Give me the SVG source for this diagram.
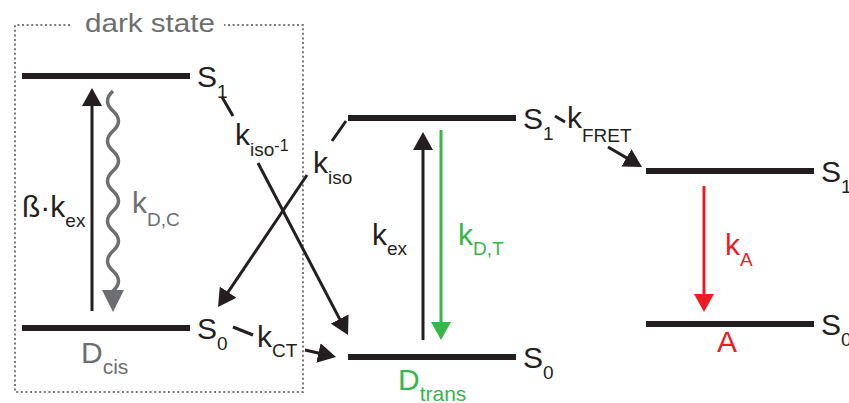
<svg xmlns="http://www.w3.org/2000/svg" width="849" height="403" viewBox="0 0 849 403">
<style>
.lvl{stroke:#231f20;stroke-width:6;fill:none}
.t{font-family:"Liberation Sans",Arial,sans-serif;font-size:30px;fill:#231f20}
.g{fill:#6d6e71}
.gr{fill:#39b54a}
.rd{fill:#ed1c24}
.sub{font-size:19px}
.ar{stroke:#231f20;stroke-width:3;fill:none;marker-end:url(#hb)}
.dash{stroke:#231f20;stroke-width:3;fill:none}
</style>
<defs>
<marker id="hb" viewBox="0 0 18 20" markerWidth="18" markerHeight="20" refX="10" refY="10" orient="auto" markerUnits="userSpaceOnUse"><path d="M0,0 L18,10 L0,20 z" fill="#231f20"/></marker>
<marker id="hg" viewBox="0 0 22 22" markerWidth="22" markerHeight="22" refX="12" refY="11" orient="auto" markerUnits="userSpaceOnUse"><path d="M0,0 L22,11 L0,22 z" fill="#6d6e71"/></marker>
<marker id="hgr" viewBox="0 0 18 20" markerWidth="18" markerHeight="20" refX="10" refY="10" orient="auto" markerUnits="userSpaceOnUse"><path d="M0,0 L18,10 L0,20 z" fill="#39b54a"/></marker>
<marker id="hr" viewBox="0 0 18 20" markerWidth="18" markerHeight="20" refX="10" refY="10" orient="auto" markerUnits="userSpaceOnUse"><path d="M0,0 L18,10 L0,20 z" fill="#ed1c24"/></marker>
</defs>
<rect width="849" height="403" fill="#ffffff"/>

<g id="dark-state">
<path d="M70,25 H15 V392 H303 V25 H224" fill="none" stroke="#7a7a7a" stroke-width="2" stroke-dasharray="2 2.6"/>
<text class="t g" x="85" y="32" textLength="130" lengthAdjust="spacingAndGlyphs" style="font-size:25px">dark state</text>
</g>

<g id="cis-S1">
<line class="lvl" x1="22" y1="76" x2="190" y2="76"/>
<text class="t" x="197" y="87">S<tspan class="sub" dy="11">1</tspan></text>
</g>
<g id="cis-S0">
<line class="lvl" x1="22" y1="328" x2="190" y2="328"/>
<text class="t" x="197" y="339">S<tspan class="sub" dy="11">0</tspan></text>
<text class="t g" x="81" y="363">D<tspan class="sub" dy="11" style="font-size:21px">cis</tspan></text>
</g>
<g id="trans-S1">
<line class="lvl" x1="348" y1="118" x2="516" y2="118"/>
<text class="t" x="523" y="129">S<tspan class="sub" dy="11">1</tspan></text>
</g>
<g id="trans-S0">
<line class="lvl" x1="348" y1="357" x2="516" y2="357"/>
<text class="t" x="523" y="368">S<tspan class="sub" dy="11">0</tspan></text>
<text class="t gr" x="398" y="390">D<tspan class="sub" dy="11" style="font-size:21px">trans</tspan></text>
</g>
<g id="acc-S1">
<line class="lvl" x1="646" y1="171" x2="814" y2="171"/>
<text class="t" x="821" y="182">S<tspan class="sub" dy="11">1</tspan></text>
</g>
<g id="acc-S0">
<line class="lvl" x1="646" y1="324" x2="814" y2="324"/>
<text class="t" x="821" y="335">S<tspan class="sub" dy="11">0</tspan></text>
<text class="t rd" x="717" y="352">A</text>
</g>

<g id="connectors">
<line class="ar" x1="92" y1="311" x2="92" y2="96"/>
<text class="t" x="22" y="217">ß·k<tspan class="sub" dy="10">ex</tspan></text>
<path d="M113,91 q-11,10 0,20 t0,20 t0,20 t0,20 t0,20 t0,20 t0,20 t0,20 t0,20 t0,20 L113,302" stroke="#6d6e71" stroke-width="3.5" fill="none" marker-end="url(#hg)"/>
<text class="t g" x="132" y="213">k<tspan class="sub" dy="13">D,C</tspan></text>
<line class="dash" x1="222" y1="97" x2="233" y2="116"/>
<line class="ar" x1="258" y1="163" x2="344.3" y2="327.9"/>
<text class="t" x="235" y="145">k<tspan class="sub" dy="11">iso</tspan><tspan style="font-size:16px" dy="-5">-1</tspan></text>
<line class="dash" x1="332" y1="141" x2="346" y2="121"/>
<line class="ar" x1="307" y1="175" x2="222.5" y2="300.4"/>
<text class="t" x="313" y="173">k<tspan class="sub" dy="11">iso</tspan></text>
<line class="dash" x1="233" y1="327" x2="253" y2="335"/>
<line class="ar" x1="305" y1="350" x2="328.2" y2="355.2"/>
<text class="t" x="257" y="347">k<tspan class="sub" dy="10">CT</tspan></text>
<line class="ar" x1="423" y1="340" x2="423" y2="140"/>
<text class="t" x="372" y="245">k<tspan class="sub" dy="10">ex</tspan></text>
<line x1="441" y1="130" x2="441" y2="332" stroke="#39b54a" stroke-width="3" marker-end="url(#hgr)"/>
<text class="t gr" x="458" y="245">k<tspan class="sub" dy="10">D,T</tspan></text>
<line class="dash" x1="555" y1="116" x2="565" y2="122"/>
<line class="ar" x1="608" y1="147" x2="635.1" y2="162.9"/>
<text class="t" x="567" y="128">k<tspan class="sub" dy="14">FRET</tspan></text>
<line x1="704" y1="186" x2="704" y2="304" stroke="#ed1c24" stroke-width="3" marker-end="url(#hr)"/>
<text class="t rd" x="725" y="255">k<tspan class="sub" dy="11">A</tspan></text>
</g>
</svg>
